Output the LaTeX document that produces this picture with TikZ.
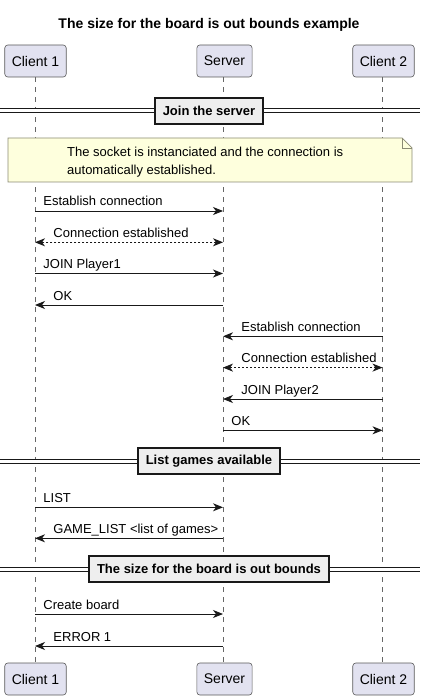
\documentclass[tikz,border=0pt]{standalone}
\usepackage{fontspec}
\setmainfont{Liberation Sans}
\usetikzlibrary{arrows.meta}
\definecolor{partfill}{HTML}{E2E2F0}
\definecolor{notefill}{HTML}{FEFFDD}
\definecolor{noteline}{HTML}{8A8A74}
\definecolor{divfill}{HTML}{EEEEEE}
\colorlet{myline}{black!90}

\begin{document}
\begin{tikzpicture}[x=1pt,y=-1pt]
\tikzset{party/.style={draw=black!65, fill=partfill, rounded corners=3pt, line width=0.6pt,
    minimum height=32pt, inner xsep=7pt, font=\fontsize{14}{16}\selectfont}}
\tikzset{lifeline/.style={draw=black!60, line width=0.5pt, dash pattern=on 5pt off 5pt}}
\tikzset{divline/.style={draw=myline, double=white, double distance=3pt, line width=1pt}}
\tikzset{divbox/.style={draw=myline, fill=divfill, line width=1.6pt, minimum height=26pt,
    inner xsep=8pt, font=\fontsize{13}{15}\selectfont\bfseries}}
\tikzset{msg/.style={draw=myline, line width=0.9pt, -{Stealth[length=10pt,width=8pt,inset=3pt]}}}
\tikzset{reply/.style={msg, {Stealth[length=10pt,width=8pt,inset=3pt]}-{Stealth[length=10pt,width=8pt,inset=3pt]}, dash pattern=on 2pt off 2pt}}
\tikzset{lbl/.style={anchor=base west, inner sep=0, font=\fontsize{13}{15}\selectfont}}
\useasboundingbox (0,0) rectangle (425,700);

\node[anchor=base, font=\fontsize{14}{16}\selectfont\bfseries] (title) at (209,28.5)
  {The size for the board is out bounds example};

% participants
\node[party] (c1) at (35.5,61) {Client 1};
\node[party] (srv) at (224.5,61) {Server};
\node[party] (c2) at (383.5,61) {Client 2};
\node[party] (c1b) at (35.5,679) {Client 1};
\node[party] (srvb) at (224.5,679) {Server};
\node[party] (c2b) at (383.5,679) {Client 2};
\draw[lifeline] (c1.south -| 35,0) -- (c1b.north -| 35,0);
\draw[lifeline] (srv.south -| 223,0) -- (srvb.north -| 223,0);
\draw[lifeline] (c2.south -| 382.5,0) -- (c2b.north -| 382.5,0);
\coordinate (l1) at (35,0);
\coordinate (ls) at (223,0);
\coordinate (l2) at (382.5,0);

% dividers
\coordinate (dl1) at (0,110.5);
\coordinate (dr1) at (420,110.5);
\coordinate (dl2) at (0,461);
\coordinate (dr2) at (420,461);
\coordinate (dl3) at (0,569);
\coordinate (dr3) at (420,569);
\draw[divline] (dl1) -- (dr1);
\draw[divline] (dl2) -- (dr2);
\draw[divline] (dl3) -- (dr3);
\node[divbox] (join) at (209,111) {Join the server};
\node[divbox] (games) at (209,461) {List games available};
\node[divbox] (bounds) at (209,569) {The size for the board is out bounds};

% note
\draw[noteline, fill=notefill, line width=0.7pt] (8,138) -- (402,138) -- (412,148) -- (412,182) -- (8,182) -- cycle;
\draw[noteline, line width=0.7pt] (402,138) -- (402,148) -- (412,148);
\node[anchor=north west, inner sep=0, align=left, font=\fontsize{13}{17.5}\selectfont] (note) at (67,147.3)
  {The socket is instanciated and the connection is\\automatically established.};

% messages
\coordinate (m1) at (0,211);
\coordinate (m2) at (0,242.3);
\coordinate (m3) at (0,273.5);
\coordinate (m4) at (0,305);
\coordinate (m5) at (0,336.3);
\coordinate (m6) at (0,367.6);
\coordinate (m7) at (0,399);
\coordinate (m8) at (0,430.3);
\coordinate (m9) at (0,507.3);
\coordinate (m10) at (0,538.3);
\coordinate (m11) at (0,614);
\coordinate (m12) at (0,646);
\draw[msg] (l1 |- m1) -- (ls |- m1) node[lbl, at start, xshift=8pt, yshift=5pt] {Establish connection};
\draw[reply] (ls |- m2) -- (l1 |- m2) node[lbl, at end, xshift=18pt, yshift=5pt] {Connection established};
\draw[msg] (l1 |- m3) -- (ls |- m3) node[lbl, at start, xshift=8pt, yshift=5pt] {JOIN Player1};
\draw[msg] (ls |- m4) -- (l1 |- m4) node[lbl, at end, xshift=18pt, yshift=5pt] {OK};
\draw[msg] (l2 |- m5) -- (ls |- m5) node[lbl, at end, xshift=18pt, yshift=5pt] {Establish connection};
\draw[reply] (l2 |- m6) -- (ls |- m6) node[lbl, at end, xshift=18pt, yshift=5pt] {Connection established};
\draw[msg] (l2 |- m7) -- (ls |- m7) node[lbl, at end, xshift=18pt, yshift=5pt] {JOIN Player2};
\draw[msg] (ls |- m8) -- (l2 |- m8) node[lbl, at start, xshift=8pt, yshift=5pt] {OK};
\draw[msg] (l1 |- m9) -- (ls |- m9) node[lbl, at start, xshift=8pt, yshift=5pt] {LIST};
\draw[msg] (ls |- m10) -- (l1 |- m10) node[lbl, at end, xshift=18pt, yshift=5pt] {GAME\_LIST <list of games>};
\draw[msg] (l1 |- m11) -- (ls |- m11) node[lbl, at start, xshift=8pt, yshift=5pt] {Create board};
\draw[msg] (ls |- m12) -- (l1 |- m12) node[lbl, at end, xshift=18pt, yshift=5pt] {ERROR 1};
\end{tikzpicture}
\end{document}
